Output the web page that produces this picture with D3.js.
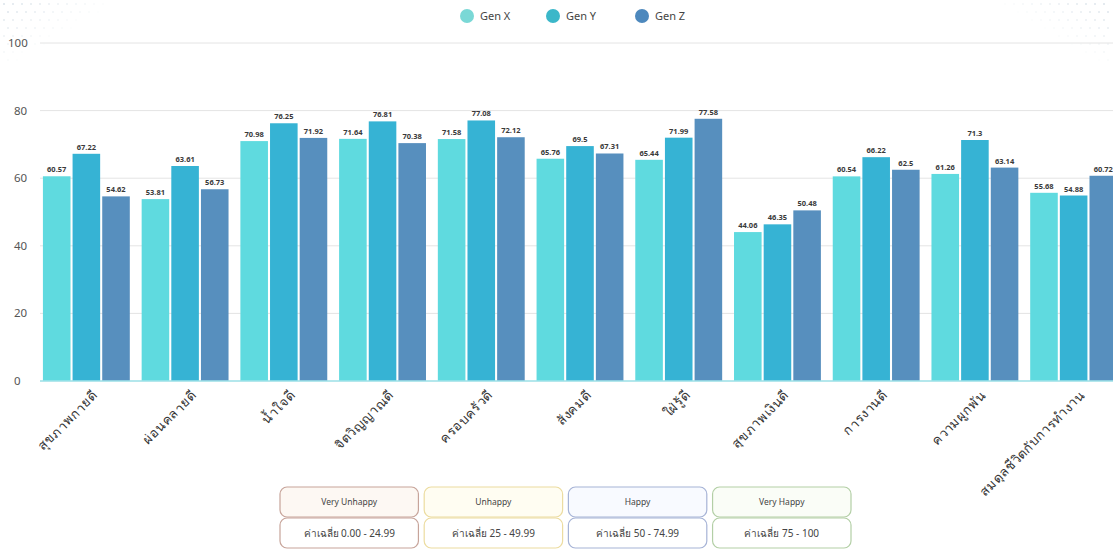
<!DOCTYPE html>
<html><head><meta charset="utf-8">
<script src="https://cdn.jsdelivr.net/npm/d3@7"></script>
<style>
html,body{margin:0;padding:0;background:#fff;}
svg{display:block;font-family:"Noto Sans","DejaVu Sans",sans-serif;}
</style></head>
<body>
<svg id="c" width="1113" height="550"></svg>
<script>
const categories = ["สุขภาพกายดี","ผ่อนคลายดี","น้ำใจดี","จิตวิญญาณดี","ครอบครัวดี","สังคมดี","ใฝ่รู้ดี","สุขภาพเงินดี","การงานดี","ความผูกพัน","สมดุลชีวิตกับการทำงาน"];
const seriesNames = ["Gen X","Gen Y","Gen Z"];
const genX = [60.57,53.81,70.98,71.64,71.58,65.76,65.44,44.06,60.54,61.26,55.68];
const genY = [67.22,63.61,76.25,76.81,77.08,69.50,71.99,46.35,66.22,71.3,54.88];
const genZ = [54.62,56.73,71.92,70.38,72.12,67.31,77.58,50.48,62.5,63.14,60.72];
const yTicks = [0,20,40,60,80,100];
const levelNames = ["Very Unhappy","Unhappy","Happy","Very Happy"];
const levelRanges = ["ค่าเฉลี่ย 0.00 - 24.99","ค่าเฉลี่ย 25 - 49.99","ค่าเฉลี่ย 50 - 74.99","ค่าเฉลี่ย 75 - 100"];

const barColors = ["#5fdadf","#36b3d4","#578fbe"];
const legendColors = ["#7ad8d6","#3bb7c9","#4d88bd"];
const levelBorders = ["#c7a49a","#ecdca0","#a6b3d6","#b3cfa6"];
const levelFills = ["#fdf8f3","#fffdf2","#f8faff","#fafdf7"];

const svg = d3.select("#c");
const series = [genX, genY, genZ];
const data = categories.map((c,i)=>({cat:c, vals:series.map((s,j)=>({k:j, v:s[i]}))}));

const y = d3.scaleLinear().domain([0,100]).range([381,43]);
const x0 = d3.scaleBand().domain(categories).range([37,1123]).paddingInner(0.12).paddingOuter(0.06);
const x1 = d3.scaleBand().domain([0,1,2]).range([0,x0.bandwidth()]).paddingInner(0.07);

// decorative dots
const deco = svg.append("g").attr("fill","#b8c7d6");
for(let r=0;r<8;r++){for(let c=0;c<12;c++){
  const op = Math.max(0,0.5 - (r*0.06 + c*0.04));
  if(op>0) deco.append("circle").attr("cx",4+c*9+(r%2)*4).attr("cy",4+r*8).attr("r",1).attr("opacity",op);
  const op2 = Math.max(0,0.5 - (r*0.06 + (11-c)*0.04));
  if(op2>0) deco.append("circle").attr("cx",1005+c*9+(r%2)*4).attr("cy",4+r*8).attr("r",1).attr("opacity",op2);
}}

// grid
const grid = svg.append("g");
grid.selectAll("line").data(yTicks).join("line")
  .attr("x1",40).attr("x2",1113).attr("y1",d=>y(d)).attr("y2",d=>y(d))
  .attr("stroke","#e4e4e4").attr("stroke-width",1);
svg.append("g").selectAll("text").data(yTicks).join("text")
  .attr("x",d=> d===100?8:14).attr("y",d=>y(d)+4).attr("font-size",11.5).attr("fill","#555")
  .text(d=>d);

// bars
const groups = svg.append("g").selectAll("g").data(data).join("g")
  .attr("transform",d=>`translate(${x0(d.cat)},0)`);
groups.selectAll("rect").data(d=>d.vals).join("rect")
  .attr("x",d=>x1(d.k)).attr("width",x1.bandwidth())
  .attr("y",d=>y(d.v)).attr("height",d=>y(0)-y(d.v))
  .attr("fill",d=>barColors[d.k]);
groups.selectAll("text").data(d=>d.vals).join("text")
  .attr("x",d=>x1(d.k)+x1.bandwidth()/2).attr("y",d=>y(d.v)-4)
  .attr("text-anchor","middle").attr("font-size",7.5).attr("font-weight","bold").attr("fill","#3a3a3a")
  .text(d=>d.v.toFixed(2).replace(/\.?0+$/,""));

// baseline
svg.append("line").attr("x1",40).attr("x2",1113).attr("y1",y(0)).attr("y2",y(0))
  .attr("stroke","#9fe3ea").attr("stroke-width",1.5);

// x labels
svg.append("g").selectAll("text").data(categories).join("text")
  .attr("text-anchor","end").attr("font-size",13).attr("letter-spacing",0.6).attr("fill","#333")
  .attr("transform",d=>`translate(${x0(d)+x0.bandwidth()/2+12},${396}) rotate(-45)`)
  .text(d=>d);

// top legend
const lg = svg.append("g");
const lx = [467,553,642];
seriesNames.forEach((n,i)=>{
  lg.append("circle").attr("cx",lx[i]).attr("cy",16).attr("r",7).attr("fill",legendColors[i]);
  lg.append("text").attr("x",lx[i]+13).attr("y",20).attr("font-size",11).attr("fill","#444").text(n);
});

// bottom level boxes
const bx = d3.scaleBand().domain(levelNames).range([280,851]).paddingInner(0.04);
const lb = svg.append("g").selectAll("g").data(levelNames).join("g")
  .attr("transform",d=>`translate(${bx(d)},0)`);
lb.append("rect").attr("x",0).attr("y",487).attr("width",bx.bandwidth()).attr("height",30).attr("rx",7)
  .attr("fill",(d,i)=>levelFills[i]).attr("stroke",(d,i)=>levelBorders[i]).attr("stroke-width",1.2);
lb.append("rect").attr("x",0).attr("y",518).attr("width",bx.bandwidth()).attr("height",30).attr("rx",7)
  .attr("fill","#fff").attr("stroke",(d,i)=>levelBorders[i]).attr("stroke-width",1.2);
lb.append("text").attr("x",bx.bandwidth()/2).attr("y",505).attr("text-anchor","middle")
  .attr("font-size",8.5).attr("fill","#444").text(d=>d);
lb.append("text").attr("x",bx.bandwidth()/2).attr("y",537).attr("text-anchor","middle")
  .attr("font-size",10).attr("fill","#444").text((d,i)=>levelRanges[i]);
</script>
</body></html>
